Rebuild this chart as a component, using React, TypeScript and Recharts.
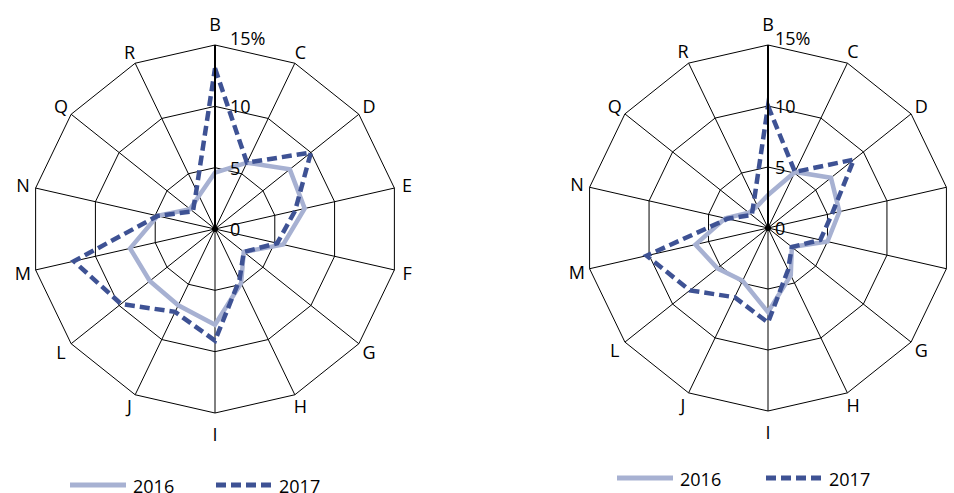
import React from 'react';
import { RadarChart, Radar, PolarGrid, PolarAngleAxis, PolarRadiusAxis, Legend } from 'recharts';

const categories = ['B', 'C', 'D', 'E', 'F', 'G', 'H', 'I', 'J', 'L', 'M', 'N', 'Q', 'R'];
const left2016 = [4.6, 6.0, 7.8, 7.5, 5.7, 3.0, 4.9, 7.8, 6.9, 6.8, 7.1, 4.8, 2.6, 3.0];
const left2017 = [13.1, 6.0, 10.0, 6.7, 5.2, 3.0, 4.6, 9.1, 7.5, 9.8, 11.8, 4.8, 2.3, 3.5];
const right2016 = [2.7, 5.1, 6.6, 6.0, 5.0, 2.5, 4.3, 6.9, 4.8, 5.3, 6.1, 3.6, 2.0, 2.0];
const right2017 = [10.0, 5.1, 9.0, 5.4, 4.4, 2.5, 3.8, 7.75, 6.3, 8.2, 10.2, 3.4, 1.7, 2.6];
const radiusTicks = [0, 5, 10, 15];
const seriesNames = ['2016', '2017'];

const COLOR_2016 = '#a7b1d2';
const COLOR_2017 = '#3e5294';
const DASH = '10 5';
const FONT = '"Open Sans", sans-serif';

const buildData = (a: number[], b: number[]) =>
  categories.map((c, i) => ({ cat: c, [seriesNames[0]]: a[i], [seriesNames[1]]: b[i] }));

const leftData = buildData(left2016, left2017);
const rightData = buildData(right2016, right2017);

const makeAngleTick = (cx: number, cy: number, outer: number) => (props: any) => {
  const { payload } = props;
  const ang = (payload.coordinate * Math.PI) / 180;
  const s = Math.abs(Math.sin(ang));
  const r = outer + (s > 0.99 ? 21 : 13);
  const x = cx + r * Math.cos(ang);
  const y = cy - r * Math.sin(ang);
  return (
    <text x={x} y={y} textAnchor="middle" dominantBaseline="central" fontSize={18} fill="#000" fontFamily={FONT}>
      {payload.value}
    </text>
  );
};

const makeRadiusTick = (dx: number) => (props: any) => {
  const { x, y, payload } = props;
  const v = payload.value;
  const label = v === radiusTicks[radiusTicks.length - 1] ? `${v}%` : `${v}`;
  return (
    <g>
      {v === 0 && <circle cx={x} cy={y} r={3} fill="#000" />}
      <text x={x + dx} y={y + (v === 15 ? -7 : 0)} dominantBaseline="central" fontSize={18} fill="#000" fontFamily={FONT}>
        {label}
      </text>
    </g>
  );
};

const styleFor = (name: string) =>
  name === seriesNames[0] ? { color: COLOR_2016, dash: undefined } : { color: COLOR_2017, dash: DASH };

const makeLegend = (lineLen: number, step: number) => (props: any) => {
  const payload = props.payload || [];
  return (
    <svg width={330} height={30} style={{ display: 'block', overflow: 'visible' }}>
      {payload.map((e: any, i: number) => {
        const st = styleFor(e.value);
        const x0 = i * step;
        return (
          <g key={i}>
            <line x1={x0} y1={15} x2={x0 + lineLen} y2={15} stroke={st.color} strokeWidth={5} strokeDasharray={st.dash} />
            <text x={x0 + lineLen + 7} y={15.5} dominantBaseline="central" fontSize={18} fill="#000" fontFamily={FONT}>
              {e.value}
            </text>
          </g>
        );
      })}
    </svg>
  );
};

type PanelProps = {
  data: any[];
  cx: number;
  cy: number;
  outer: number;
  tickDx: number;
  legendLeft: number;
  legendTop: number;
  legendStep: number;
  greyDown: boolean;
};

const Panel = ({ data, cx, cy, outer, tickDx, legendLeft, legendTop, legendStep, greyDown }: PanelProps) => (
  <RadarChart
    width={477}
    height={493}
    data={data}
    cx={cx}
    cy={cy}
    outerRadius={outer}
    margin={{ top: 0, right: 0, bottom: 0, left: 0 }}
    style={{ fontFamily: FONT }}
  >
    <PolarGrid gridType="polygon" stroke="#000" strokeWidth={1} />
    {greyDown && (
      <PolarRadiusAxis
        radiusAxisId="down"
        angle={270}
        domain={[0, 15]}
        tickCount={4}
        tick={false}
        tickLine={false}
        axisLine={{ stroke: '#808080', strokeWidth: 2 }}
      />
    )}
    <PolarRadiusAxis
      angle={90}
      domain={[0, 15]}
      tickCount={4}
      tickLine={false}
      axisLine={{ stroke: '#000', strokeWidth: 2 }}
      tick={makeRadiusTick(tickDx)}
    />
    <PolarAngleAxis dataKey="cat" axisLine={false} tickLine={false} tick={makeAngleTick(cx, cy, outer)} />
    <Radar
      name={seriesNames[0]}
      dataKey={seriesNames[0]}
      stroke={COLOR_2016}
      strokeWidth={4.5}
      fill="none"
      fillOpacity={0}
      dot={false}
      isAnimationActive={false}
    />
    <Radar
      name={seriesNames[1]}
      dataKey={seriesNames[1]}
      stroke={COLOR_2017}
      strokeWidth={4.5}
      strokeDasharray={DASH}
      fill="none"
      fillOpacity={0}
      dot={false}
      isAnimationActive={false}
    />
    <Legend
      width={330}
      height={30}
      verticalAlign="bottom"
      content={makeLegend(56, legendStep)}
      wrapperStyle={{ left: legendLeft, top: legendTop, bottom: 'auto', width: 330, height: 30 }}
    />
  </RadarChart>
);

export default function App() {
  return (
    <div
      style={{
        position: 'absolute',
        left: 0,
        top: 0,
        width: 954,
        height: 493,
        background: '#fff',
        overflow: 'hidden',
        fontFamily: FONT,
      }}
    >
      <div style={{ position: 'absolute', left: 0, top: 0 }}>
        <Panel data={leftData} cx={215} cy={229} outer={184} tickDx={15} legendLeft={70} legendTop={470} legendStep={146} greyDown={false} />
      </div>
      <div style={{ position: 'absolute', left: 477, top: 0 }}>
        <Panel data={rightData} cx={291} cy={228} outer={183} tickDx={7} legendLeft={140} legendTop={463} legendStep={149} greyDown={true} />
      </div>
    </div>
  );
}
